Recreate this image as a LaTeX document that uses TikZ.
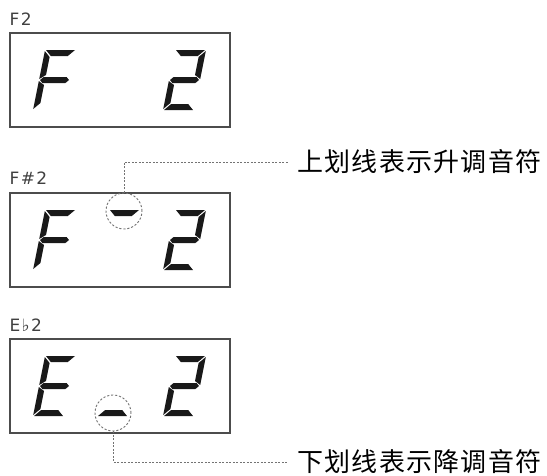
\documentclass[tikz,border=0pt]{standalone}
\usepackage{fontspec}
\usepackage{tikz}
\usetikzlibrary{positioning}
\newfontfamily\cjk[LetterSpace=5]{Noto Sans CJK SC}
\newfontfamily\lblfont[LetterSpace=8]{DejaVu Sans}
% segments of one digit, bottom left at (0,0), 31 wide, 60 high
\newcommand{\sega}{(1,60) -- (30,60) -- (24,54) -- (7,54) -- cycle}
\newcommand{\segb}{(31,59) -- (31,31) -- (25,35) -- (25,53) -- cycle}
\newcommand{\segc}{(31,1) -- (31,29) -- (25,25) -- (25,7) -- cycle}
\newcommand{\segd}{(1,0) -- (30,0) -- (24,6) -- (7,6) -- cycle}
\newcommand{\sege}{(0,1) -- (0,29) -- (6,25) -- (6,7) -- cycle}
\newcommand{\segf}{(0,59) -- (0,31) -- (6,35) -- (6,53) -- cycle}
\newcommand{\segg}{(1,30) -- (4,33) -- (27,33) -- (30,30) -- (27,27) -- (4,27) -- cycle}
\newcommand{\segfill}[1]{\expandafter\fill\csname seg#1\endcsname;}

\begin{document}
\begin{tikzpicture}[x=1pt,y=-1pt,
     screen/.style={draw=black!70,line width=1.1pt,minimum width=220pt,
       minimum height=94pt,inner sep=0pt},
     lab/.style={font=\lblfont\fontsize{17}{19}\selectfont,text=black!75,
       inner sep=0pt,anchor=base west},
     digit/.style={y=1pt,xslant=0.2,fill=black!90},
     ring/.style={circle,draw=black!55,dashed,line width=0.9pt,
       dash pattern=on 2.2pt off 1.8pt,minimum size=36pt,inner sep=0pt},
     leader/.style={draw=black!55,line width=0.8pt,
       dash pattern=on 2pt off 1.5pt},
     note/.style={font=\cjk\fontsize{26}{28}\selectfont,anchor=west,
       inner xsep=9pt,inner ysep=0pt}]
    \useasboundingbox (0,0) rectangle (547,475);
    % three displays
    \node[screen] (boxF) at (120,80) {};
    \node[screen] (boxFsharp) at (120,240) {};
    \node[screen] (boxEflat) at (120,386) {};
    \node[lab] (labF) at ([yshift=7pt]boxF.north west) {F2};
    \node[lab] (labFsharp) at ([yshift=8pt]boxFsharp.north west) {F\#2};
    \node[lab] (labEflat) at ([yshift=7pt]boxEflat.north west) {E♭2};
    % digits: x/y of bottom left corner and lit segments
    \foreach \x/\y/\segs in {33/110/{a,f,g,e}, 163/110/{a,b,g,e,d},
        33/270/{a,f,g,e}, 97/270/{a}, 163/270/{a,b,g,e,d},
        33/416/{a,f,g,e,d}, 97/416/{d}, 163/416/{a,b,g,e,d}}{
      \begin{scope}[shift={(\x,\y)},digit]
        \foreach \s in \segs {\segfill{\s}}
      \end{scope}
    }
    % marks and notes
    \node[ring] (sharpring) at (124,211) {};
    \node[ring] (flatring) at (113,413) {};
    \node[note] (sharpnote) at (288,162) {上划线表示升调音符};
    \node[note] (flatnote) at (288,462) {下划线表示降调音符};
    \draw[leader] (sharpring.north) |- (sharpnote.west);
    \draw[leader] (flatring.south) |- (flatnote.west);
  \end{tikzpicture}
\end{document}
